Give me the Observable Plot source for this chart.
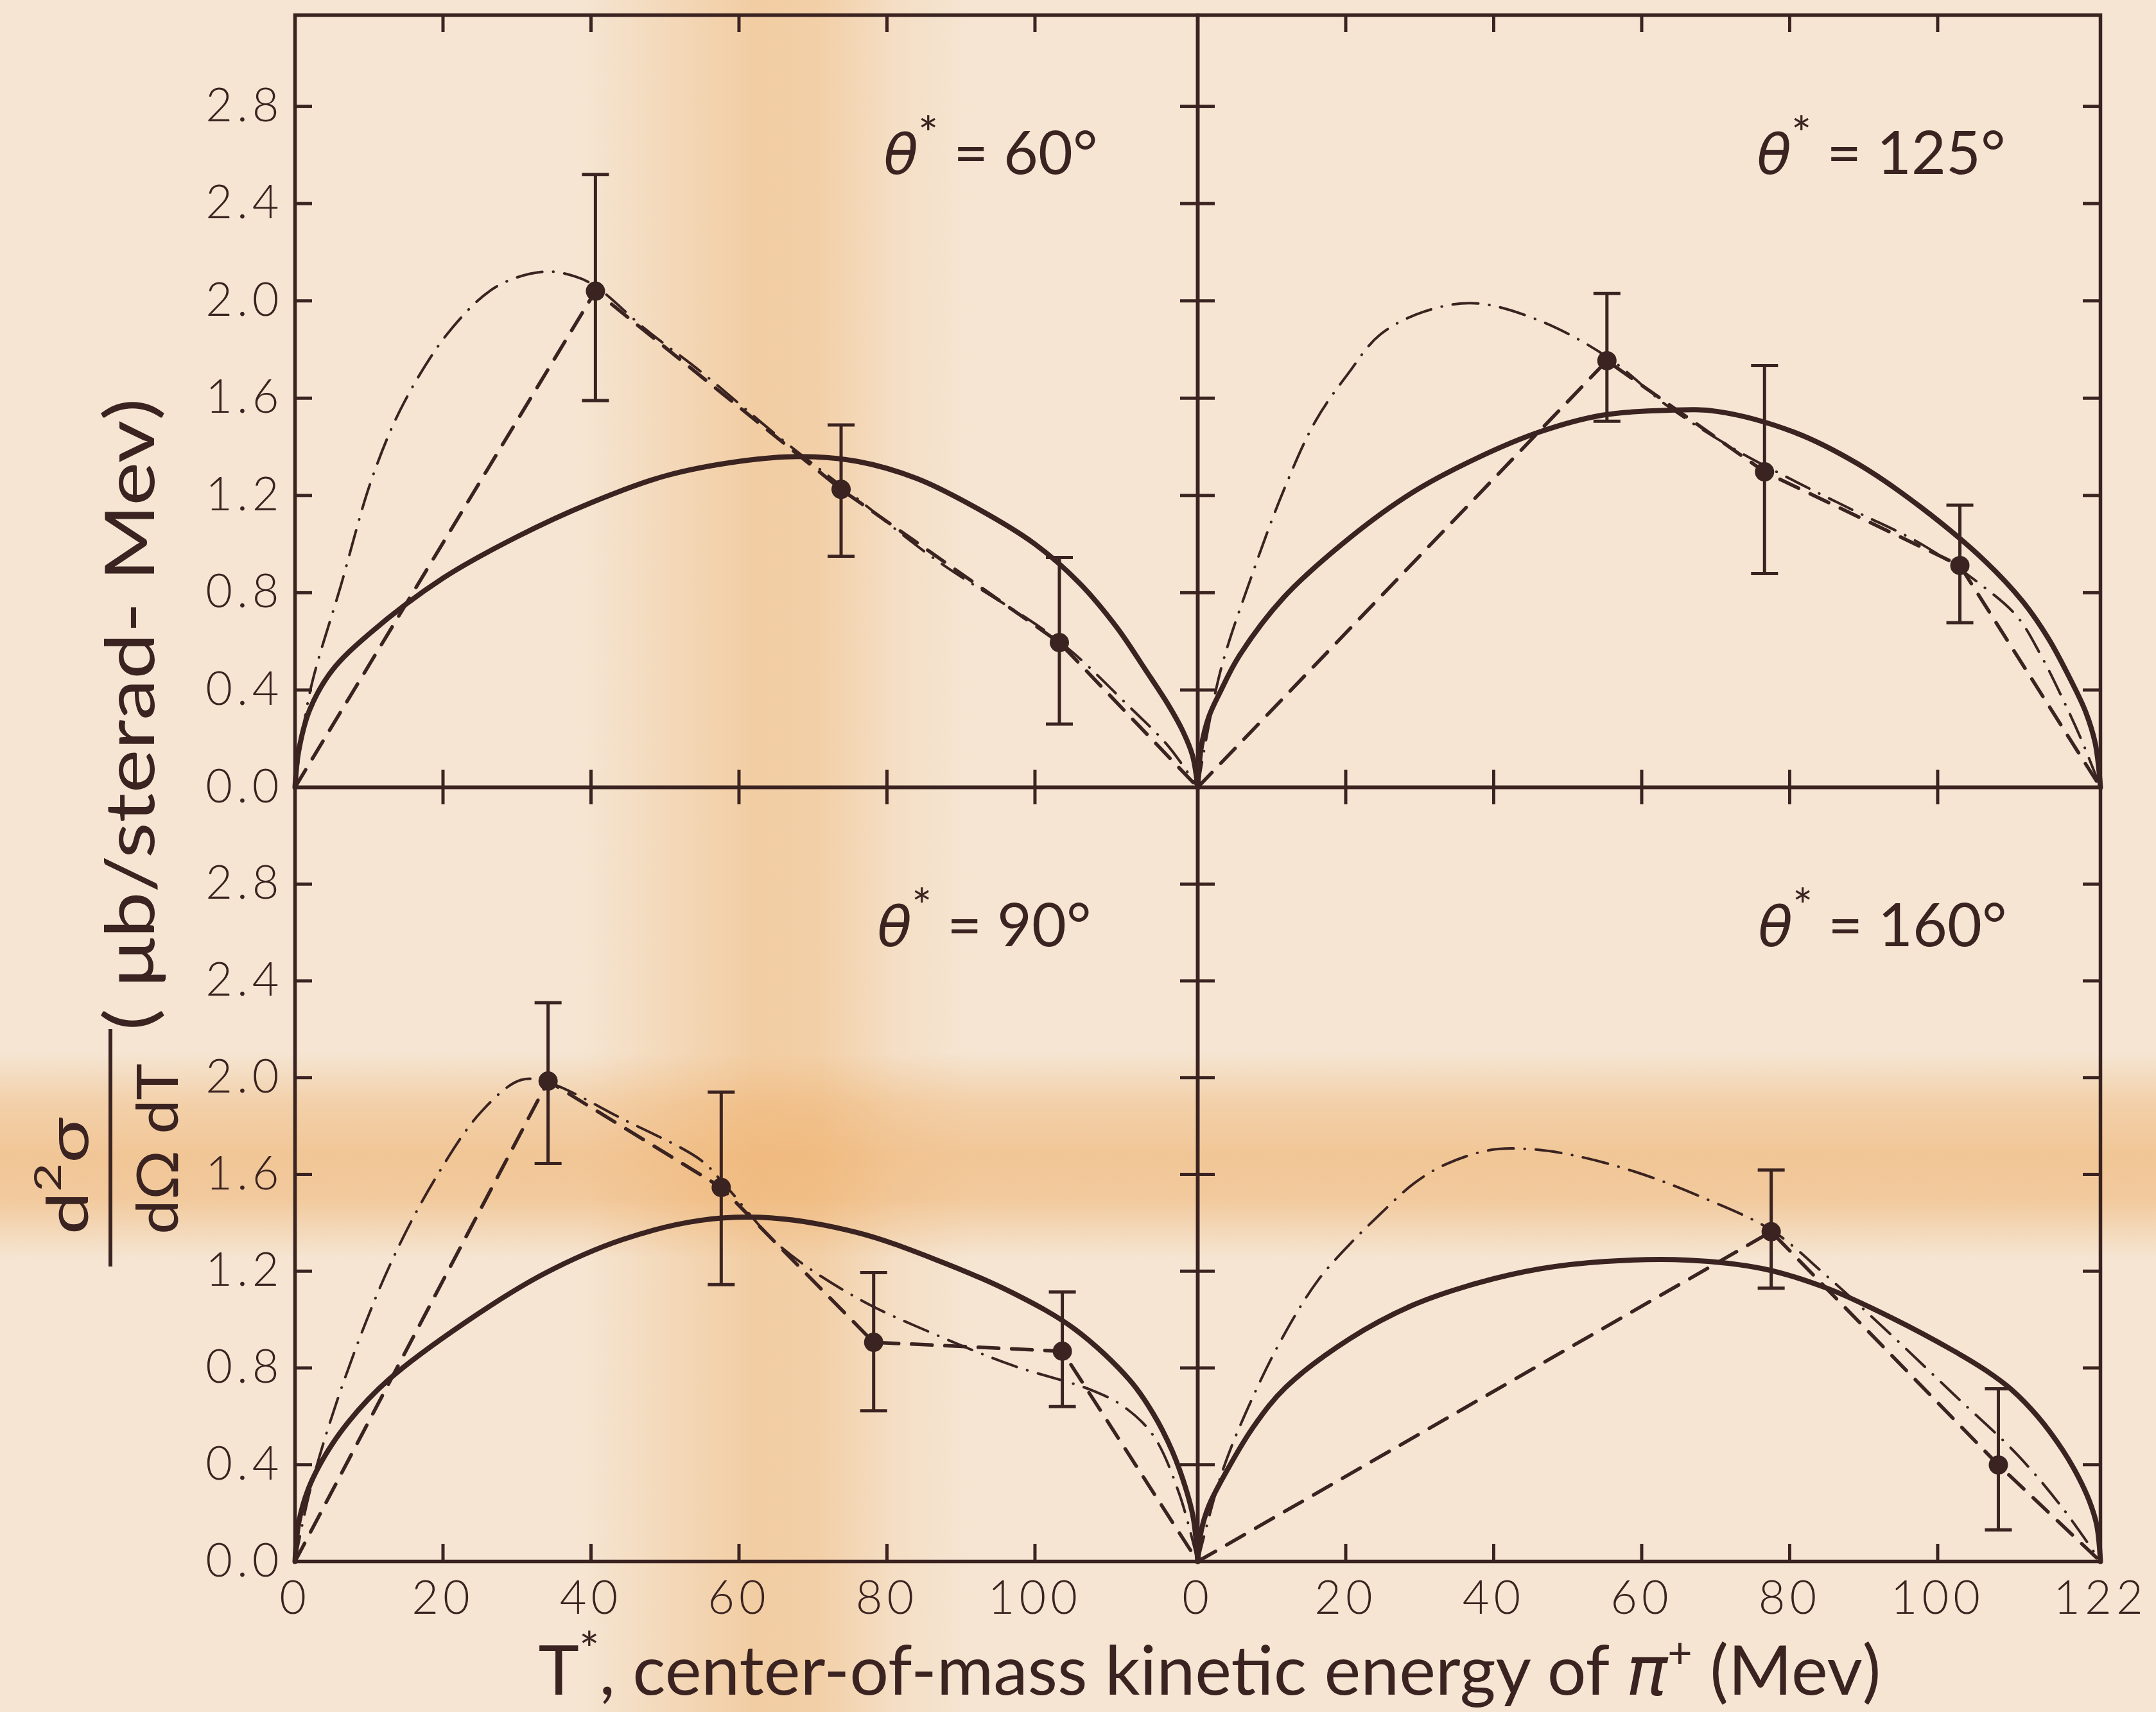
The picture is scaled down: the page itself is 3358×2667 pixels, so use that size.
<!DOCTYPE html>
<html><head><meta charset="utf-8">
<script src="https://cdn.jsdelivr.net/npm/d3@7"></script>
<script src="https://cdn.jsdelivr.net/npm/@observablehq/plot@0.6"></script>
<style>
html,body{margin:0;padding:0;}
body{width:3358px;height:2667px;overflow:hidden;background:#f5e5d2;}
#page{position:relative;width:3358px;height:2667px;
 background:
  linear-gradient(180deg, rgba(238,168,92,0) 61.5%, rgba(238,168,92,0.35) 64.5%, rgba(238,168,92,0.5) 67.5%, rgba(238,168,92,0.45) 70%, rgba(238,168,92,0) 73.5%),
  linear-gradient(90deg, rgba(238,172,98,0) 27%, rgba(238,172,98,0.22) 31%, rgba(238,172,98,0.42) 35%, rgba(238,172,98,0.38) 38%, rgba(238,172,98,0.12) 41.5%, rgba(238,172,98,0) 45%),
  #f5e5d2;}
.panel{position:absolute;}
.panel svg{overflow:visible;}
</style></head><body><div id="page"></div>
<script>
const ink = "#3a2320";
const tMax = 122;
const yTickVals = [0.0, 0.4, 0.8, 1.2, 1.6, 2.0, 2.4, 2.8];
const xTickVals = [20, 40, 60, 80, 100];
const xLabelsLeft = [0, 20, 40, 60, 80, 100];
const xLabelsRight = [0, 20, 40, 60, 80, 100, 122];

// θ* = 60°
const pts60T = [40.6, 73.8, 103.3];
const pts60Y = [2.04, 1.225, 0.595];
const pts60Lo = [1.59, 0.95, 0.26];
const pts60Hi = [2.52, 1.49, 0.945];
const solid60T = [0, 0.5, 2, 5, 10, 20, 30, 40, 50, 60, 68, 76, 84, 92, 100, 106, 111, 115, 118, 120, 121.3, 122];
const solid60Y = [0, 0.15, 0.32, 0.48, 0.63, 0.86, 1.03, 1.17, 1.28, 1.34, 1.36, 1.34, 1.27, 1.15, 1.0, 0.84, 0.66, 0.48, 0.34, 0.23, 0.13, 0];
const dd60T = [0, 2, 6.2, 10.4, 14.7, 21, 27.3, 33.7, 37.9, 40.6, 47.5, 54.8, 65.4, 73.8, 86.4, 103.3, 112.8, 118, 122];
const dd60Y = [0, 0.39, 0.83, 1.27, 1.58, 1.88, 2.06, 2.12, 2.10, 2.06, 1.88, 1.71, 1.44, 1.24, 0.94, 0.60, 0.33, 0.17, 0];

// θ* = 125°
const pts125T = [55.3, 76.6, 103.0];
const pts125Y = [1.754, 1.297, 0.912];
const pts125Lo = [1.505, 0.879, 0.677];
const pts125Hi = [2.03, 1.734, 1.16];
const solid125T = [0, 0.5, 1.5, 3, 5.6, 11.6, 20.3, 28.9, 37.5, 46.1, 54.7, 63.4, 70.3, 80.6, 89.2, 97.8, 106.4, 111.6, 115, 118, 120, 121.3, 122];
const solid125Y = [0, 0.17, 0.29, 0.39, 0.54, 0.78, 1.02, 1.21, 1.35, 1.46, 1.53, 1.55, 1.545, 1.46, 1.33, 1.15, 0.93, 0.76, 0.61, 0.44, 0.31, 0.18, 0];
const dd125T = [0, 3, 7.3, 11.6, 15.9, 20.3, 24.6, 30.6, 37.5, 46.1, 55.3, 63.4, 72, 80.6, 89.2, 97.8, 106.4, 110.8, 114, 116.8, 119.5, 122];
const dd125Y = [0, 0.47, 0.87, 1.22, 1.505, 1.70, 1.86, 1.956, 1.99, 1.92, 1.77, 1.57, 1.40, 1.26, 1.13, 1.0, 0.82, 0.70, 0.54, 0.37, 0.19, 0];

// θ* = 90°
const pts90T = [34.2, 57.6, 78.2, 103.7];
const pts90Y = [1.986, 1.546, 0.906, 0.869];
const pts90Lo = [1.645, 1.144, 0.623, 0.64];
const pts90Hi = [2.31, 1.94, 1.194, 1.114];
const solid90T = [0, 0.5, 1.8, 4.1, 7.3, 12.6, 23.1, 33.7, 44.2, 54.8, 64.3, 75.9, 86.4, 97, 105.4, 112.8, 116, 118.5, 120.3, 121.4, 122];
const solid90Y = [0, 0.16, 0.30, 0.44, 0.58, 0.75, 0.99, 1.19, 1.33, 1.41, 1.42, 1.36, 1.25, 1.11, 0.96, 0.75, 0.61, 0.46, 0.31, 0.18, 0];
const dd90T = [0, 2, 6.2, 12.6, 18.9, 25.2, 30.5, 34.2, 44.2, 54.8, 58, 65.3, 75.9, 86.4, 97, 107.5, 112, 116, 119.5, 122];
const dd90Y = [0, 0.29, 0.71, 1.21, 1.58, 1.86, 1.99, 1.98, 1.83, 1.66, 1.56, 1.31, 1.09, 0.94, 0.81, 0.71, 0.64, 0.52, 0.28, 0];

// θ* = 160°
const pts160T = [77.5, 108.2];
const pts160Y = [1.363, 0.399];
const pts160Lo = [1.13, 0.131];
const pts160Hi = [1.618, 0.714];
const solid160T = [0, 0.5, 1.5, 3.3, 7.6, 11.9, 20.5, 29.1, 37.7, 46.3, 54.9, 66.1, 76.4, 85, 93.6, 102.2, 106.5, 110, 113.5, 116.9, 119, 120.5, 121.5, 122];
const solid160Y = [0, 0.13, 0.23, 0.34, 0.56, 0.72, 0.92, 1.06, 1.15, 1.21, 1.24, 1.246, 1.21, 1.13, 1.01, 0.87, 0.79, 0.71, 0.60, 0.46, 0.35, 0.25, 0.15, 0];
const dd160T = [0, 3.3, 7.6, 11.9, 16.2, 20.5, 24.8, 29.1, 33.4, 39.4, 44.6, 50.6, 59.2, 67.8, 77.5, 85, 93.6, 102.2, 110.8, 116.9, 122];
const dd160Y = [0, 0.37, 0.69, 0.95, 1.16, 1.31, 1.44, 1.56, 1.64, 1.70, 1.705, 1.68, 1.61, 1.51, 1.37, 1.18, 0.94, 0.69, 0.44, 0.22, 0];

const zip = (xs, ys) => xs.map((x, i) => ({x, y: ys[i]}));
const ptsOf = (T, Y, Lo, Hi) => T.map((x, i) => ({x, y: Y[i], lo: Lo[i], hi: Hi[i]}));

const capSymbol = {draw(ctx, size) { const r = Math.sqrt(size / Math.PI); ctx.moveTo(-r, 0); ctx.lineTo(r, 0); }};

const L = 459, M = 1865, R = 3271, T0 = 23, MY = 1226, B = 2432;
const panels = [
  {label: "θ* = 60°", left: L, top: T0, w: M - L, h: MY - T0, yMax: 3.175, yLabels: true, xLabels: null, dx: -156,
   pts: ptsOf(pts60T, pts60Y, pts60Lo, pts60Hi), solid: zip(solid60T, solid60Y), dd: zip(dd60T, dd60Y)},
  {label: "θ* = 125°", left: M, top: T0, w: R - M, h: MY - T0, yMax: 3.175, yLabels: false, xLabels: null, dx: -148,
   pts: ptsOf(pts125T, pts125Y, pts125Lo, pts125Hi), solid: zip(solid125T, solid125Y), dd: zip(dd125T, dd125Y)},
  {label: "θ* = 90°", left: L, top: MY, w: M - L, h: B - MY, yMax: 3.20, yLabels: true, xLabels: xLabelsLeft, dx: -166,
   pts: ptsOf(pts90T, pts90Y, pts90Lo, pts90Hi), solid: zip(solid90T, solid90Y), dd: zip(dd90T, dd90Y)},
  {label: "θ* = 160°", left: M, top: MY, w: R - M, h: B - MY, yMax: 3.20, yLabels: false, xLabels: xLabelsRight, dx: -146,
   pts: ptsOf(pts160T, pts160Y, pts160Lo, pts160Hi), solid: zip(solid160T, solid160Y), dd: zip(dd160T, dd160Y)}
];

const page = document.getElementById("page");
const tickLen = 27;

for (const p of panels) {
  const dashed = [{x: 0, y: 0}, ...p.pts.map(d => ({x: d.x, y: d.y})), {x: tMax, y: 0}];
  const marks = [
    Plot.frame({stroke: ink, strokeWidth: 5.5}),
    Plot.tickY(yTickVals.slice(1), {y: d => d, stroke: ink, strokeWidth: 5, insetRight: p.w - tickLen}),
    Plot.tickY(yTickVals.slice(1), {y: d => d, stroke: ink, strokeWidth: 5, insetLeft: p.w - tickLen}),
    Plot.tickX(xTickVals, {x: d => d, stroke: ink, strokeWidth: 5, insetBottom: p.h - tickLen}),
    Plot.tickX(xTickVals, {x: d => d, stroke: ink, strokeWidth: 5, insetTop: p.h - tickLen}),
    Plot.line(p.dd, {x: "x", y: "y", curve: "catmull-rom", stroke: ink, strokeWidth: 4, strokeDasharray: "40,17,0.5,17", strokeLinecap: "round"}),
    Plot.line(dashed, {x: "x", y: "y", stroke: ink, strokeWidth: 5.5, strokeDasharray: "32,20", strokeLinecap: "round"}),
    Plot.line(p.solid, {x: "x", y: "y", curve: "catmull-rom", stroke: ink, strokeWidth: 8, strokeLinejoin: "round"}),
    Plot.ruleX(p.pts, {x: "x", y1: "lo", y2: "hi", stroke: ink, strokeWidth: 5}),
    Plot.dot(p.pts, {x: "x", y: "lo", symbol: capSymbol, r: 21, stroke: ink, strokeWidth: 5, fill: "none"}),
    Plot.dot(p.pts, {x: "x", y: "hi", symbol: capSymbol, r: 21, stroke: ink, strokeWidth: 5, fill: "none"}),
    Plot.dot(p.pts, {x: "x", y: "y", r: 15, fill: ink, stroke: "none"}),
    Plot.text([p.label], {text: d => d, frameAnchor: "top-right", textAnchor: "end", lineAnchor: "middle", dx: p.dx, dy: 218, fontSize: 93, fill: ink, fontWeight: 400})
  ];
  if (p.yLabels) marks.push(Plot.axisY(yTickVals, {anchor: "left", tickSize: 0, tickPadding: 18, tickFormat: d3.format(".1f"), fontSize: 72, fontWeight: 300, fill: ink, label: null}));
  if (p.xLabels) marks.push(Plot.axisX(p.xLabels, {anchor: "bottom", tickSize: 0, tickPadding: 30, tickFormat: d => String(d), fontSize: 72, fontWeight: 300, fill: ink, label: null}));
  const svg = Plot.plot({
    width: p.w, height: p.h, margin: 0,
    x: {domain: [0, tMax], axis: null},
    y: {domain: [0, p.yMax], axis: null},
    style: {background: "transparent", overflow: "visible", color: ink, fontFamily: "Lato, 'Noto Sans', sans-serif"},
    marks
  });
  const div = document.createElement("div");
  div.className = "panel";
  div.style.left = p.left + "px";
  div.style.top = p.top + "px";
  div.appendChild(svg);
  page.appendChild(div);
  svg.querySelectorAll("text").forEach(t => {
    const s = t.textContent;
    if (s.startsWith("θ")) {
      // italic θ with a raised asterisk
      const rest = s.slice(2);
      t.textContent = "";
      const ns = "http://www.w3.org/2000/svg";
      const a = document.createElementNS(ns, "tspan"); a.textContent = "θ"; a.setAttribute("font-style", "italic"); a.setAttribute("font-family", "'DejaVu Sans', sans-serif"); a.setAttribute("font-size", "88");
      const b = document.createElementNS(ns, "tspan"); b.textContent = "*"; b.setAttribute("dy", "-36"); b.setAttribute("font-size", "74");
      const c = document.createElementNS(ns, "tspan"); c.textContent = rest; c.setAttribute("dy", "36");
      t.appendChild(a); t.appendChild(b); t.appendChild(c);
    } else if (/^[0-9.]+$/.test(s)) {
      // wider tick-label lettering
      t.setAttribute("letter-spacing", "7");
    }
  });
}

// axis titles
const ov = d3.select(page).append("svg")
  .attr("width", 3358).attr("height", 2667)
  .style("position", "absolute").style("left", "0px").style("top", "0px")
  .attr("font-family", "Lato, 'Noto Sans', sans-serif").attr("fill", ink);

const xt = ov.append("text").attr("x", 1884).attr("y", 2640).attr("text-anchor", "middle")
  .attr("font-size", 107).attr("textLength", 2091).attr("lengthAdjust", "spacingAndGlyphs");
xt.append("tspan").text("T");
xt.append("tspan").text("*").attr("dy", -44).attr("font-size", 74);
xt.append("tspan").text(", center-of-mass  kinetic energy of ").attr("dy", 44);
xt.append("tspan").text("π").attr("font-style", "italic").attr("font-family", "'DejaVu Sans', sans-serif");
xt.append("tspan").text("+").attr("dy", -42).attr("font-size", 66);
xt.append("tspan").text(" (Mev)").attr("dy", 42);

ov.append("text").attr("transform", "translate(240,1113) rotate(-90)").attr("text-anchor", "middle")
  .attr("font-size", 107).attr("textLength", 985).attr("lengthAdjust", "spacingAndGlyphs")
  .text("( μb/sterad- Mev)");

const num = ov.append("text").attr("transform", "translate(137,1832) rotate(-90)").attr("text-anchor", "middle")
  .attr("font-size", 90).attr("textLength", 183).attr("lengthAdjust", "spacingAndGlyphs");
num.append("tspan").text("d");
num.append("tspan").text("2").attr("dy", -42).attr("font-size", 58);
num.append("tspan").text("σ").attr("dy", 42);

ov.append("line").attr("x1", 172).attr("x2", 172).attr("y1", 1603).attr("y2", 1973)
  .attr("stroke", ink).attr("stroke-width", 6);

ov.append("text").attr("transform", "translate(277,1790) rotate(-90)").attr("text-anchor", "middle")
  .attr("font-size", 90).attr("textLength", 266).attr("lengthAdjust", "spacingAndGlyphs")
  .text("dΩ dT");
</script></body></html>
